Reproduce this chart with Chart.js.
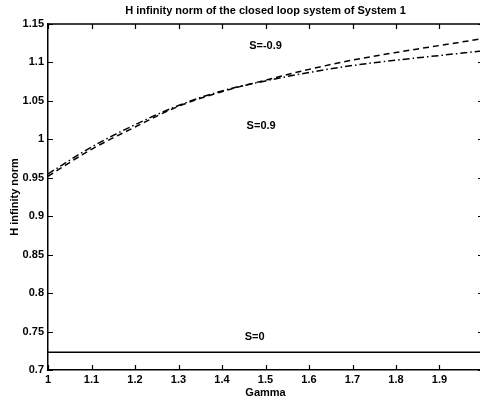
<!DOCTYPE html>
<html>
<head>
<meta charset="utf-8">
<script src="https://cdn.jsdelivr.net/npm/chart.js@4/dist/chart.umd.min.js"></script>
<style>
  html, body { margin: 0; padding: 0; background: #fff; overflow: hidden; }
  #wrap { width: 480px; height: 401px; overflow: hidden; }
  #chart { display: block; }
</style>
</head>
<body>
<div id="wrap"><canvas id="chart" width="486" height="401"></canvas></div>
<script>
// data
const gamma = [1.0, 1.1, 1.2, 1.3, 1.4, 1.5, 1.6, 1.7, 1.8, 1.9, 2.0];
const sMinus09 = [0.952, 0.987, 1.016, 1.043, 1.062, 1.077, 1.091, 1.103, 1.113, 1.122, 1.131];
const sPlus09 = [0.955, 0.990, 1.019, 1.044, 1.063, 1.076, 1.087, 1.096, 1.103, 1.109, 1.115];
const sZero = [0.723, 0.723, 0.723, 0.723, 0.723, 0.723, 0.723, 0.723, 0.723, 0.723, 0.723];

const curveLabels = ['S=-0.9', 'S=0.9', 'S=0'];
const labelGamma = [1.5, 1.49, 1.475];
const labelValue = [1.121, 1.018, 0.743];

const xTicks = [1, 1.1, 1.2, 1.3, 1.4, 1.5, 1.6, 1.7, 1.8, 1.9, 2];
const yTicks = [0.7, 0.75, 0.8, 0.85, 0.9, 0.95, 1, 1.05, 1.1, 1.15];

const FONT = '"Liberation Sans", Arial, sans-serif';

function pts(ys) {
    return gamma.map((g, i) => ({ x: g, y: ys[i] }));
}

function fmt(v) {
    return String(Math.round(v * 100) / 100);
}

// MATLAB style frame: inward ticks, top line, text labels
const decor = {
    id: 'decor',
    afterDatasetsDraw(chart) {
        const ctx = chart.ctx;
        const a = chart.chartArea;
        const xs = chart.scales.x;
        const ys = chart.scales.y;
        ctx.save();
        ctx.strokeStyle = '#000';
        ctx.lineWidth = 1.2;
        ctx.beginPath();
        xTicks.forEach(t => {
            const px = Math.round(xs.getPixelForValue(t)) + 0.5;
            ctx.moveTo(px, a.bottom);
            ctx.lineTo(px, a.bottom - 5);
            ctx.moveTo(px, a.top);
            ctx.lineTo(px, a.top + 5);
        });
        yTicks.forEach(t => {
            const py = Math.round(ys.getPixelForValue(t)) + 0.5;
            ctx.moveTo(a.left, py);
            ctx.lineTo(a.left + 5, py);
            ctx.moveTo(a.right, py);
            ctx.lineTo(a.right - 5, py);
        });
        ctx.stroke();

        ctx.lineWidth = 1.5;
        ctx.beginPath();
        ctx.moveTo(a.left, a.top);
        ctx.lineTo(a.right, a.top);
        ctx.lineTo(a.right, a.bottom);
        ctx.stroke();

        ctx.fillStyle = '#000';
        ctx.font = 'bold 11px ' + FONT;
        ctx.textAlign = 'center';
        ctx.textBaseline = 'middle';
        curveLabels.forEach((txt, i) => {
            ctx.fillText(txt, xs.getPixelForValue(labelGamma[i]), ys.getPixelForValue(labelValue[i]));
        });

        const cx = (a.left + a.right) / 2;
        ctx.fillText('H infinity norm of the closed loop system of System 1', cx, 11);
        ctx.fillText('Gamma', cx, 393);

        ctx.translate(15, (a.top + a.bottom) / 2);
        ctx.rotate(-Math.PI / 2);
        ctx.fillText('H infinity norm', 0, 0);
        ctx.restore();
    }
};

const lineStyle = {
    borderColor: '#000',
    borderWidth: 1.5,
    pointRadius: 0,
    fill: false,
    cubicInterpolationMode: 'monotone'
};

new Chart(document.getElementById('chart'), {
    type: 'line',
    data: {
        datasets: [
            Object.assign({ label: 'S=-0.9', data: pts(sMinus09), borderDash: [6, 4] }, lineStyle),
            Object.assign({ label: 'S=0.9', data: pts(sPlus09), borderDash: [7, 3, 1.5, 3] }, lineStyle),
            Object.assign({ label: 'S=0', data: pts(sZero) }, lineStyle)
        ]
    },
    options: {
        responsive: false,
        animation: false,
        layout: { padding: { top: 24, right: 3, left: 0, bottom: 0 } },
        plugins: {
            legend: { display: false },
            title: { display: false },
            tooltip: { enabled: false }
        },
        scales: {
            x: {
                type: 'linear',
                min: 1,
                max: 2,
                afterFit: s => { s.height = 31; },
                afterBuildTicks: s => { s.ticks = xTicks.map(v => ({ value: v })); },
                grid: { display: false, drawTicks: false },
                border: { color: '#000', width: 1.5 },
                ticks: {
                    padding: 3,
                    color: '#000',
                    font: { family: FONT, size: 11, weight: 'bold' },
                    maxRotation: 0,
                    autoSkip: false,
                    callback: v => (v >= 2 ? '' : fmt(v))
                }
            },
            y: {
                min: 0.7,
                max: 1.15,
                afterFit: s => { s.width = 48; },
                afterBuildTicks: s => { s.ticks = yTicks.map(v => ({ value: v })); },
                grid: { display: false, drawTicks: false },
                border: { color: '#000', width: 1.5 },
                ticks: {
                    padding: 4,
                    color: '#000',
                    font: { family: FONT, size: 11, weight: 'bold' },
                    autoSkip: false,
                    callback: v => fmt(v)
                }
            }
        }
    },
    plugins: [decor]
});
</script>
</body>
</html>
